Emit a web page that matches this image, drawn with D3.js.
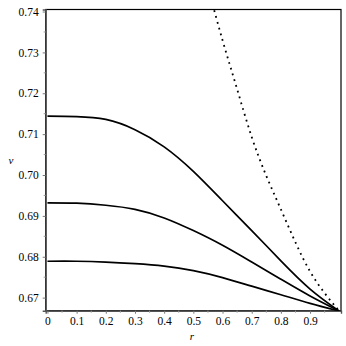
<!DOCTYPE html>
<html>
<head>
<meta charset="utf-8">
<script src="https://cdn.jsdelivr.net/npm/d3@7"></script>
<style>
  body { margin: 0; background: #fff; }
</style>
</head>
<body>
<div id="chart"></div>
<script>
'use strict';

// r values the solid curves were read at
var rVals = [0, 0.1, 0.2, 0.3, 0.4, 0.5, 0.6, 0.7, 0.8, 0.9, 1.0];
var upper = [0.7144, 0.7143, 0.7136, 0.7111, 0.7069, 0.7009, 0.6937, 0.6864, 0.6790, 0.6721, 0.6667];
var middle = [0.6932, 0.6931, 0.6926, 0.6916, 0.6895, 0.6864, 0.6828, 0.6787, 0.6745, 0.6704, 0.6667];
var lower = [0.6789, 0.6789, 0.6787, 0.6783, 0.6777, 0.6766, 0.6749, 0.6728, 0.6707, 0.6686, 0.6667];

// dotted curve
var rDot = [0.55, 0.6, 0.65, 0.7, 0.75, 0.8, 0.85, 0.9, 0.95, 1.0];
var vDot = [0.7460, 0.7330, 0.7210, 0.7093, 0.6998, 0.6916, 0.6835, 0.6764, 0.6711, 0.6667];

var xTicks = [0, 0.1, 0.2, 0.3, 0.4, 0.5, 0.6, 0.7, 0.8, 0.9];
var yTicks = [0.67, 0.68, 0.69, 0.70, 0.71, 0.72, 0.73, 0.74];

var width = 346, height = 346;
var margin = {top: 9.5, right: 5, bottom: 35.3, left: 45.7};
var font = 'Liberation Serif';

var svg = d3.select('#chart').append('svg')
    .attr('width', width)
    .attr('height', height);

var x = d3.scaleLinear()
    .domain([-0.006, 1.006])
    .range([margin.left, width - margin.right]);

var y = d3.scaleLinear()
    .domain([0.6668, 0.7405])
    .range([height - margin.bottom, margin.top]);

svg.append('clipPath').attr('id', 'clip')
  .append('rect')
    .attr('x', margin.left)
    .attr('y', margin.top)
    .attr('width', width - margin.left - margin.right)
    .attr('height', height - margin.top - margin.bottom);

// frame
svg.append('rect')
    .attr('x', margin.left)
    .attr('y', margin.top)
    .attr('width', width - margin.left - margin.right)
    .attr('height', height - margin.top - margin.bottom)
    .attr('fill', 'none')
    .attr('stroke', '#000')
    .attr('stroke-width', 1.2);

// x axis
var xAxis = d3.axisBottom(x)
    .tickValues(xTicks)
    .tickSize(3)
    .tickPadding(3)
    .tickFormat(function(d) { return d === 0 ? '0' : d.toFixed(1); });

var gx = svg.append('g')
    .attr('transform', 'translate(0,' + (height - margin.bottom) + ')')
    .call(xAxis)
    .attr('font-family', font)
    .attr('font-size', 11.5);
gx.select('.domain').attr('stroke', '#555').attr('stroke-width', 1.4);
gx.selectAll('.tick line').attr('stroke', '#777');
gx.selectAll('text').attr('fill', '#000');

// minor x ticks
svg.append('g').selectAll('line')
    .data(d3.range(0.05, 1.0, 0.1))
    .enter().append('line')
    .attr('x1', function(d) { return x(d); })
    .attr('x2', function(d) { return x(d); })
    .attr('y1', height - margin.bottom)
    .attr('y2', height - margin.bottom + 2)
    .attr('stroke', '#999');

// y axis
var yAxis = d3.axisLeft(y)
    .tickValues(yTicks)
    .tickSize(3)
    .tickPadding(4)
    .tickFormat(function(d) { return d.toFixed(2); });

var gy = svg.append('g')
    .attr('transform', 'translate(' + margin.left + ',0)')
    .call(yAxis)
    .attr('font-family', font)
    .attr('font-size', 11.5);
gy.select('.domain').attr('stroke', '#555').attr('stroke-width', 1.4);
gy.selectAll('.tick line').attr('stroke', '#777');
gy.selectAll('text').attr('fill', '#000');

// minor y ticks
svg.append('g').selectAll('line')
    .data(d3.range(0.675, 0.74, 0.01))
    .enter().append('line')
    .attr('x1', margin.left - 2)
    .attr('x2', margin.left)
    .attr('y1', function(d) { return y(d); })
    .attr('y2', function(d) { return y(d); })
    .attr('stroke', '#999');

// axis titles
svg.append('text')
    .attr('x', 192)
    .attr('y', 340)
    .attr('text-anchor', 'middle')
    .attr('font-family', font)
    .attr('font-size', 11)
    .attr('font-style', 'italic')
    .text('r');

svg.append('text')
    .attr('x', 11)
    .attr('y', 164)
    .attr('text-anchor', 'middle')
    .attr('font-family', font)
    .attr('font-size', 11)
    .attr('font-style', 'italic')
    .text('v');

var line = d3.line()
    .x(function(d) { return x(d[0]); })
    .y(function(d) { return y(d[1]); })
    .curve(d3.curveNatural);

var plot = svg.append('g').attr('clip-path', 'url(#clip)');

[upper, middle, lower].forEach(function(series) {
    plot.append('path')
        .datum(d3.zip(rVals, series))
        .attr('fill', 'none')
        .attr('stroke', '#000')
        .attr('stroke-width', 1.7)
        .attr('d', line);
});

plot.append('path')
    .datum(d3.zip(rDot, vDot))
    .attr('fill', 'none')
    .attr('stroke', '#000')
    .attr('stroke-width', 1.8)
    .attr('stroke-dasharray', '1.8,4.2')
    .attr('d', line);
</script>
</body>
</html>
